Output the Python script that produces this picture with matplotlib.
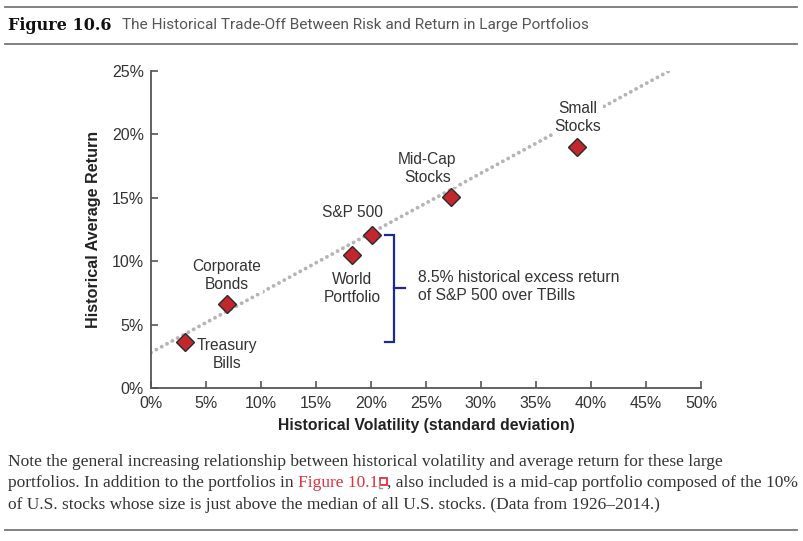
import numpy as np
import matplotlib
matplotlib.use("Agg")
import matplotlib.pyplot as plt
from matplotlib.patches import Rectangle

# portfolios: volatility (%) vs average return (%)
names = ["Treasury\nBills", "Corporate\nBonds", "World\nPortfolio", "S&P 500",
         "Mid-Cap\nStocks", "Small\nStocks"]
volatility = [3.1, 6.9, 18.3, 20.1, 27.3, 38.7]
avg_return = [3.6, 6.6, 10.5, 12.1, 15.1, 19.0]

# dotted trend line end points
trend_x = [0.0, 47.1]
trend_y = [2.8, 25.0]

xticks = [0, 5, 10, 15, 20, 25, 30, 35, 40, 45, 50]
yticks = [0, 5, 10, 15, 20, 25]

# label offsets in pixels from each marker
label_off = [(42, -12), (0, 29), (0, -34), (-20, 22), (-24, 28), (1, 30)]

excess_text = "8.5% historical excess return\nof S&P 500 over TBills"

sans = "Liberation Sans"
axis_col = "#555555"

fig = plt.figure(figsize=(8.04, 5.41), dpi=100)
ax = fig.add_axes([151/804, 1-388/541, 550/804, 317/541])

ax.plot(trend_x, trend_y, color="#b5b5b5", lw=2.8, linestyle=(0, (0.01, 1.55)),
        dash_capstyle="round", zorder=1)
ax.plot(volatility, avg_return, linestyle="none", marker="D", ms=9,
        mfc="#c1272d", mec="#2b2b2b", mew=1.0, zorder=4)

for nm, xv, yv, (dx, dy) in zip(names, volatility, avg_return, label_off):
    ax.annotate(nm, (xv, yv), xytext=(dx, dy), textcoords="offset pixels",
                ha="center", va="center", fontsize=11.2, family=sans,
                color="#333333", linespacing=1.25, zorder=3,
                bbox=dict(boxstyle="square,pad=0.1", fc="white", ec="none"))

# bracket from T-bills up to S&P 500
tb, sp = avg_return[0], avg_return[3]
bx, serif, tip = 22.1, 0.8, 1.0
mid = (tb + sp) / 2
ax.plot([bx - serif, bx, bx, bx - serif], [sp, sp, tb, tb], color="#1f2a8c", lw=1.6,
        solid_joinstyle="miter", zorder=3)
ax.plot([bx, bx + tip], [mid, mid], color="#1f2a8c", lw=1.6, zorder=3)
ax.text(24.3, mid + 0.15, excess_text, ha="left", va="center", fontsize=11.3,
        family=sans, color="#333333", linespacing=1.25)

ax.set_xlim(0, 50)
ax.set_ylim(0, 25)
ax.set_xticks(xticks)
ax.set_yticks(yticks)
ax.set_xticklabels([f"{t}%" for t in xticks])
ax.set_yticklabels([f"{t}%" for t in yticks])
for lab in ax.get_xticklabels() + ax.get_yticklabels():
    lab.set_family(sans)
    lab.set_fontsize(11.5)
    lab.set_color("#333333")
ax.tick_params(direction="in", length=5, width=1.2, color=axis_col)
ax.tick_params(axis="x", pad=6)
ax.tick_params(axis="y", pad=5)
for s in ["top", "right"]:
    ax.spines[s].set_visible(False)
for s in ["left", "bottom"]:
    ax.spines[s].set_color(axis_col)
    ax.spines[s].set_linewidth(1.3)
ax.set_xlabel("Historical Volatility (standard deviation)", family=sans,
              fontsize=11.3, fontweight="bold", color="#222222", labelpad=5)
ax.set_ylabel("Historical Average Return", family=sans, fontsize=11.6,
              fontweight="bold", color="#222222", labelpad=8)
ax.patch.set_alpha(0)

# header and footer rules
for yy in [7, 44, 530]:
    fig.add_artist(plt.Line2D([5/804, 797/804], [1-yy/541, 1-yy/541],
                              color="#777777", lw=1.3))

fig.text(8/804, 1-25/541, "Figure 10.6", family=["DejaVu Serif Condensed", "DejaVu Serif"],
         fontweight="bold", fontsize=11.5, color="#111111", va="center", ha="left")
fig.text(122/804, 1-25/541, "The Historical Trade-Off Between Risk and Return in Large Portfolios",
         family="Roboto", fontsize=11.1, color="#555555",
         va="center", ha="left")

# caption, with the red link in the middle line
cap_kw = dict(family="Liberation Serif", fontsize=12.5, color="#333333",
              va="center", ha="left")
fig.text(8/804, 1-462/541, "Note the general increasing relationship between historical "
         "volatility and average return for these large", **cap_kw)
fig.text(8/804, 1-505/541, "of U.S. stocks whose size is just above the median of all U.S. "
         "stocks. (Data from 1926\u20132014.)", **cap_kw)

r = fig.canvas.get_renderer()
t1 = fig.text(8/804, 1-483/541, "portfolios. In addition to the portfolios in ", **cap_kw)
x1 = t1.get_window_extent(r).x1
kw_red = dict(cap_kw)
kw_red["color"] = "#e0323c"
t2 = fig.text(x1/804, 1-483/541, "Figure 10.1", **kw_red)
x2 = t2.get_window_extent(r).x1
fig.add_artist(Rectangle(((x2 + 1.5)/804, 1-485/541), 7/804, 7/541, fill=False,
                         ec="#e0323c", lw=1.3, transform=fig.transFigure))
fig.add_artist(plt.Line2D([(x2 + 0.5)/804, (x2 + 0.5)/804, (x2 + 4)/804],
                          [1-481/541, 1-487.5/541, 1-487.5/541], color="#999999",
                          lw=1.0, transform=fig.transFigure))
fig.text((x2 + 8.5)/804, 1-483/541, ", also included is a mid-cap portfolio composed "
         "of the 10%", **cap_kw)

fig.savefig("out.png", dpi=100)
